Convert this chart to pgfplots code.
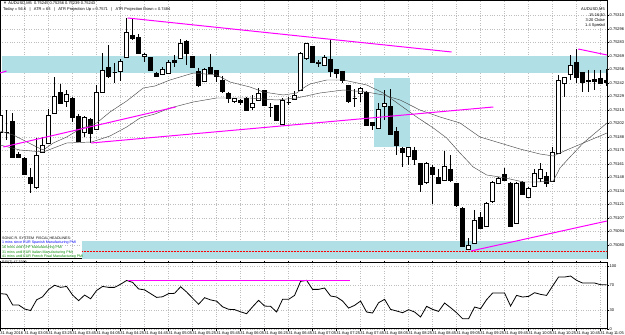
\documentclass[border=0pt]{standalone}
\usepackage{pgfplots}
\pgfplotsset{compat=1.18}
\usepgfplotslibrary{statistics}
\usepackage{fontspec}
\setmainfont{Liberation Sans}
\definecolor{zone}{RGB}{176,224,230}
\definecolor{tl}{rgb}{1,0,1}
\definecolor{gridc}{RGB}{190,190,190}
\definecolor{hdgreen}{RGB}{0,140,0}
% prices are given in units of 0.00001 above 0.75000 (e.g. 215 = 0.75215)
\newcommand\cu[5]{\addplot[draw=black, fill=white, line width=0.5pt, boxplot prepared={draw direction=y, draw position=#1, lower whisker=#2, lower quartile=#3, median=#3, upper quartile=#4, upper whisker=#5}] coordinates {};}
\newcommand\cd[5]{\addplot[draw=black, fill=black, line width=0.5pt, boxplot prepared={draw direction=y, draw position=#1, lower whisker=#2, lower quartile=#3, median=#3, upper quartile=#4, upper whisker=#5}] coordinates {};}
\newcommand\mtfont{\fontsize{4}{4.6}\selectfont}
\newcommand\smfont{\fontsize{3.6}{4.2}\selectfont}
\begin{document}
\begin{tikzpicture}[x=1pt,y=1pt]
\useasboundingbox (0,0) rectangle (625,335);
\fill[white] (0,0) rectangle (625,335);
\begin{axis}[
  at={(0,76.5)}, anchor=south west,
  width=607pt, height=258.5pt, scale only axis,
  xmin=-0.1, xmax=101.07, ymin=66.5, ymax=325,
  xtick={0,4,...,100}, xticklabels={},
  xtick style={draw=none},
  ytick={80,93.5,107,120.5,134,147.5,161,174.5,188,201.5,215,228.5,242,255.5,269,282.5,296,309.5},
  yticklabels={0.75080,0.75094,0.75107,0.75121,0.75134,0.75148,0.75161,0.75175,0.75188,0.75202,0.75215,0.75229,0.75242,0.75256,0.75269,0.75283,0.75296,0.75310},
  yticklabel pos=right,
  tick align=outside, major tick length=2pt,
  ytick style={draw=black, line width=0.4pt},
  grid=major, major grid style={draw=gridc, dotted, line width=0.4pt},
  axis line style={line width=0.6pt},
  tick label style={font=\mtfont},
  yticklabel style={inner sep=0.5pt},
  boxplot/draw direction=y,
  boxplot/box extend=0.66, boxplot/whisker extend=0,
  clip=true,
]
% zones
\addplot[draw=none, fill=zone] coordinates {(0.18,252) (101.2,252) (101.2,269) (0.18,269)} -- cycle;
\addplot[draw=none, fill=zone] coordinates {(13.57,60) (101.2,60) (101.2,84) (13.57,84)} -- cycle;
\addplot[draw=none, fill=zone] coordinates {(62.23,178) (68.23,178) (68.23,247) (62.23,247)} -- cycle;
\addplot[draw=red, densely dotted, line width=0.5pt] coordinates {(13.57,74) (101.2,74)};
% candles: position, low, body low, body high, high
\cu{0}{172}{193}{210}{215}
\cu{1}{185}{193}{193}{215}
\cd{2}{168}{168}{204}{212}
\cd{3}{168}{168}{171}{173}
\cd{4}{150}{151}{167}{168}
\cd{5}{132}{142}{148}{157}
\cu{6}{136}{138}{170}{187}
\cu{7}{173}{173}{180}{188}
\cu{8}{182}{182}{210}{216}
\cu{9}{212}{212}{229}{248}
\cd{10}{222}{222}{233}{241}
\cu{11}{218}{224}{231}{235}
\cd{12}{203}{208}{227}{228}
\cd{13}{184}{184}{209}{211}
\cu{14}{188}{193}{208}{209}
\cd{15}{182}{192}{206}{207}
\cu{16}{196}{196}{233}{240}
\cu{17}{233}{233}{255}{272}
\cd{18}{247}{249}{258}{280}
\cu{19}{242}{253}{253}{262}
\cu{20}{244}{254}{264}{266}
\cu{21}{268}{268}{293}{307}
\cd{22}{285}{287}{290}{306}
\cd{23}{272}{272}{288}{291}
\cu{24}{263}{269}{271}{272}
\cd{25}{255}{255}{268}{268}
\cd{26}{248}{249}{252}{253}
\cu{27}{250}{251}{256}{258}
\cu{28}{252}{252}{263}{265}
\cd{29}{258}{263}{265}{270}
\cu{30}{266}{267}{282}{286}
\cd{31}{260}{272}{284}{285}
\cd{32}{258}{258}{269}{269}
\cd{33}{238}{240}{254}{257}
\cu{34}{243}{244}{256}{257}
\cd{35}{252}{252}{258}{271}
\cd{36}{243}{249}{255}{255}
\cd{37}{232}{234}{245}{249}
\cd{38}{222}{227}{232}{233}
\cu{39}{222}{224}{227}{227}
\cd{40}{220}{223}{225}{226}
\cd{41}{215}{215}{227}{228}
\cu{42}{215}{218}{222}{230}
\cu{43}{224}{225}{232}{237}
\cd{44}{220}{220}{235}{235}
\cu{45}{208}{218}{218}{222}
\cd{46}{204}{205}{220}{220}
\cu{47}{200}{201}{225}{227}
\cu{48}{220}{223}{223}{228}
\cu{49}{225}{226}{230}{234}
\cu{50}{234}{235}{272}{273}
\cu{51}{265}{267}{282}{282}
\cd{52}{262}{263}{279}{279}
\cu{53}{258}{262}{263}{265}
\cu{54}{259}{260}{268}{270}
\cd{55}{248}{254}{266}{286}
\cd{56}{247}{252}{256}{256}
\cd{57}{242}{245}{254}{254}
\cd{58}{222}{224}{240}{240}
\cu{59}{218}{227}{227}{236}
\cu{60}{223}{232}{237}{238}
\cd{61}{200}{200}{233}{234}
\cd{62}{195}{200}{203}{203}
\cu{63}{196}{197}{216}{222}
\cu{64}{205}{219}{222}{235}
\cd{65}{191}{191}{219}{236}
\cd{66}{170}{180}{194}{198}
\cd{67}{158}{173}{177}{178}
\cu{68}{160}{169}{178}{178}
\cd{69}{160}{166}{175}{178}
\cd{70}{133}{141}{162}{162}
\cu{71}{141}{143}{162}{163}
\cd{72}{121}{151}{158}{160}
\cd{73}{142}{142}{148}{156}
\cu{74}{144}{145}{159}{174}
\cd{75}{143}{145}{156}{170}
\cd{76}{118}{120}{142}{142}
\cd{77}{78}{79}{117}{118}
\cu{78}{75}{76}{80}{87}
\cu{79}{81}{82}{105}{115}
\cd{80}{96}{97}{108}{113}
\cu{81}{98}{99}{122}{123}
\cu{82}{122}{124}{143}{144}
\cu{83}{141}{142}{147}{148}
\cd{84}{144}{145}{151}{157}
\cd{85}{98}{99}{142}{143}
\cu{86}{101}{102}{142}{143}
\cd{87}{130}{131}{143}{144}
\cu{88}{128}{128}{137}{138}
\cu{89}{139}{139}{152}{156}
\cu{90}{143}{147}{156}{162}
\cd{91}{138}{142}{149}{153}
\cu{92}{143}{144}{173}{178}
\cu{93}{171}{172}{245}{250}
\cu{94}{228}{242}{248}{248}
\cu{95}{245}{251}{260}{270}
\cd{96}{242}{248}{263}{276}
\cd{97}{233}{243}{253}{253}
\cd{98}{233}{244}{245}{255}
\cd{99}{235}{244}{246}{255}
\cd{100}{241}{242}{247}{255}
\cd{101}{239}{243}{245}{256}
% moving averages
\addplot[black!70, line width=0.45pt] coordinates {
(-0.1,194) (2.12,190) (6.02,178) (7.12,175) (8.78,182) (11.02,188) (13.23,196) (16.02,202) (18.23,213) (21.02,224) (23.78,237) (25.73,239) (28.23,245) (32.12,252) (36.02,250) (38.23,243) (41.57,238) (43.78,233) (47.12,230) (49.35,232) (50.73,238) (51.57,241) (54.35,245) (57.12,245) (61.02,240) (63.78,232) (66.57,220) (69.35,208) (72.12,197) (74.35,187) (76.57,172) (78.78,158) (81.02,150) (83.23,148) (84.9,146) (87.12,143) (89.35,143) (92.12,144) (93.23,157) (94.9,168) (97.12,182) (101.07,202)};
\addplot[black!70, line width=0.45pt] coordinates {
(-0.1,180) (3.23,175) (7.12,173) (11.02,182) (15.18,183) (18.23,189) (21.02,198) (23.23,207) (25.73,211) (28.23,217) (32.12,223) (36.02,227) (41.57,227) (46.02,225) (49.35,227) (53.23,232) (57.12,235) (61.02,233) (63.78,230) (66.57,225) (69.9,215) (73.23,208) (76.57,202) (79.9,188) (83.23,182) (86.57,176) (89.9,171) (92.12,169) (94.35,175) (97.12,182) (101.07,192)};
% trend lines
\addplot[draw=tl, line width=1pt] coordinates {(21.18,307) (75.18,273)};
\addplot[draw=tl, line width=1pt] coordinates {(0.45,178) (29.18,218)};
\addplot[draw=tl, line width=1pt] coordinates {(-0.1,252) (1.0,254)};
\addplot[draw=tl, line width=1pt] coordinates {(15.07,182) (82.12,218)};
\addplot[draw=tl, line width=1pt] coordinates {(78.4,74) (101.07,104)};
\addplot[draw=tl, line width=1pt] coordinates {(96.28,276) (101.07,270)};
\end{axis}
% RSI window
\begin{axis}[
  at={(0,10)}, anchor=south west,
  width=607pt, height=66pt, scale only axis,
  xmin=-0.1, xmax=101.07, ymin=0, ymax=105.3,
  xtick={0,4,...,100},
  xticklabels={31 Aug 2016,31 Aug 03:05,31 Aug 03:25,31 Aug 03:45,31 Aug 04:05,31 Aug 04:25,31 Aug 04:45,31 Aug 05:05,31 Aug 05:25,31 Aug 05:45,31 Aug 06:05,31 Aug 06:25,31 Aug 06:45,31 Aug 07:05,31 Aug 07:25,31 Aug 07:45,31 Aug 08:05,31 Aug 08:25,31 Aug 08:45,31 Aug 09:05,31 Aug 09:25,31 Aug 09:45,31 Aug 10:05,31 Aug 10:25,31 Aug 10:45,31 Aug 11:05},
  xticklabel style={anchor=north west, inner sep=0.5pt, xshift=-1pt},
  ytick={0,30,70,100},
  yticklabels={0,30,70,100},
  yticklabel pos=right,
  tick align=outside, major tick length=2pt,
  tick style={draw=black, line width=0.4pt},
  grid=major, major grid style={draw=gridc, dotted, line width=0.4pt},
  axis line style={line width=0.6pt},
  tick label style={font=\mtfont},
  yticklabel style={inner sep=0.5pt},
  clip=true,
]
\addplot[black, line width=0.8pt] coordinates {
(0,56) (1,55) (2,38) (3,38) (4,31.5) (5,29) (6,46) (7,51) (8,62.6) (9,69.4)
(10,66) (11,67.5) (12,53.7) (13,44.8) (14,53.7) (15,47.8) (16,61) (17,67.5) (18,66) (19,66)
(20,71) (21,77) (22,74) (23,63.5) (24,62) (25,56) (26,50) (27,51) (28,56) (29,56.5)
(30,67) (31,58.6) (32,48.7) (33,39) (34,49.5) (35,46) (36,44) (37,35) (38,31) (39,30.5)
(40,27) (41,24) (42,35) (43,45.3) (44,36.2) (45,35.7) (46,26.7) (47,46.9) (48,46.9) (49,53.2)
(50,75.6) (51,77.2) (52,62.8) (53,62.8) (54,65) (55,52.2) (56,50.6) (57,44.2) (58,33) (59,37.3)
(60,44.2) (61,26.7) (62,25.1) (63,41.5) (64,46.9) (65,30.9) (66,28.3) (67,25.6) (68,30.4) (69,26.7)
(70,18.7) (71,35.7) (72,30.9) (73,27.7) (74,41) (75,33.6) (76,25.6) (77,16) (78,16) (79,34.6)
(80,32) (81,46.3) (82,56.9) (83,56.9) (84,56.9) (85,36.2) (86,53.2) (87,50.6) (88,51.6) (89,57.5)
(90,54.8) (91,53.2) (92,68.1) (93,82.5) (94,82.5) (95,84.1) (96,77.2) (97,72.9) (98,72.9) (99,72.9)
(100,70.3) (101,70.3)};
\addplot[draw=tl, line width=1.2pt] coordinates {(21.2,77.2) (58.2,77.2)};
\end{axis}
% texts
\node[anchor=west, inner sep=0, font=\mtfont] at (3,331.5) {\textcolor{black!70}{▼} AUDUSD,M5 \ 0.75245 0.75256 0.75239 0.75243};
\node[anchor=west, inner sep=0, font=\mtfont] at (3,325.5) {Today = 56.6 \ \ | \ \ ATR = 63 \ \ | \ \ ATR Projection Up = 0.7571 \ \ | \ \ ATR Projection Down = 0.7484};
\node[anchor=east, inner sep=0, font=\mtfont] at (605,325.5) {AUDUSD,M5};
\node[anchor=east, inner sep=0, font=\mtfont] at (605,320) {15:16:40};
\node[anchor=east, inner sep=0, font=\mtfont] at (605,315) {3:20 Close};
\node[anchor=east, inner sep=0, font=\mtfont] at (605,310) {1.4 Spread};
\node[anchor=west, inner sep=0, font=\smfont] at (2,97) {SONIC R. SYSTEM \ FISCAL HEADLINES:};
\node[anchor=west, inner sep=0, font=\smfont, text=blue] at (2,92) {1 mins since EUR Spanish Manufacturing PMI};
\node[anchor=west, inner sep=0, font=\smfont, text=hdgreen] at (2,87) {16 mins until CHF Manufacturing PMI};
\node[anchor=west, inner sep=0, font=\smfont, text=hdgreen] at (2,82.7) {31 mins until EUR Italian Manufacturing PMI};
\node[anchor=west, inner sep=0, font=\smfont, text=hdgreen] at (2,78.7) {41 mins until EUR French Final Manufacturing PMI};
\node[anchor=west, inner sep=0, font=\smfont] at (2,72) {RSI(7) 47.3299};
\end{tikzpicture}
\end{document}
